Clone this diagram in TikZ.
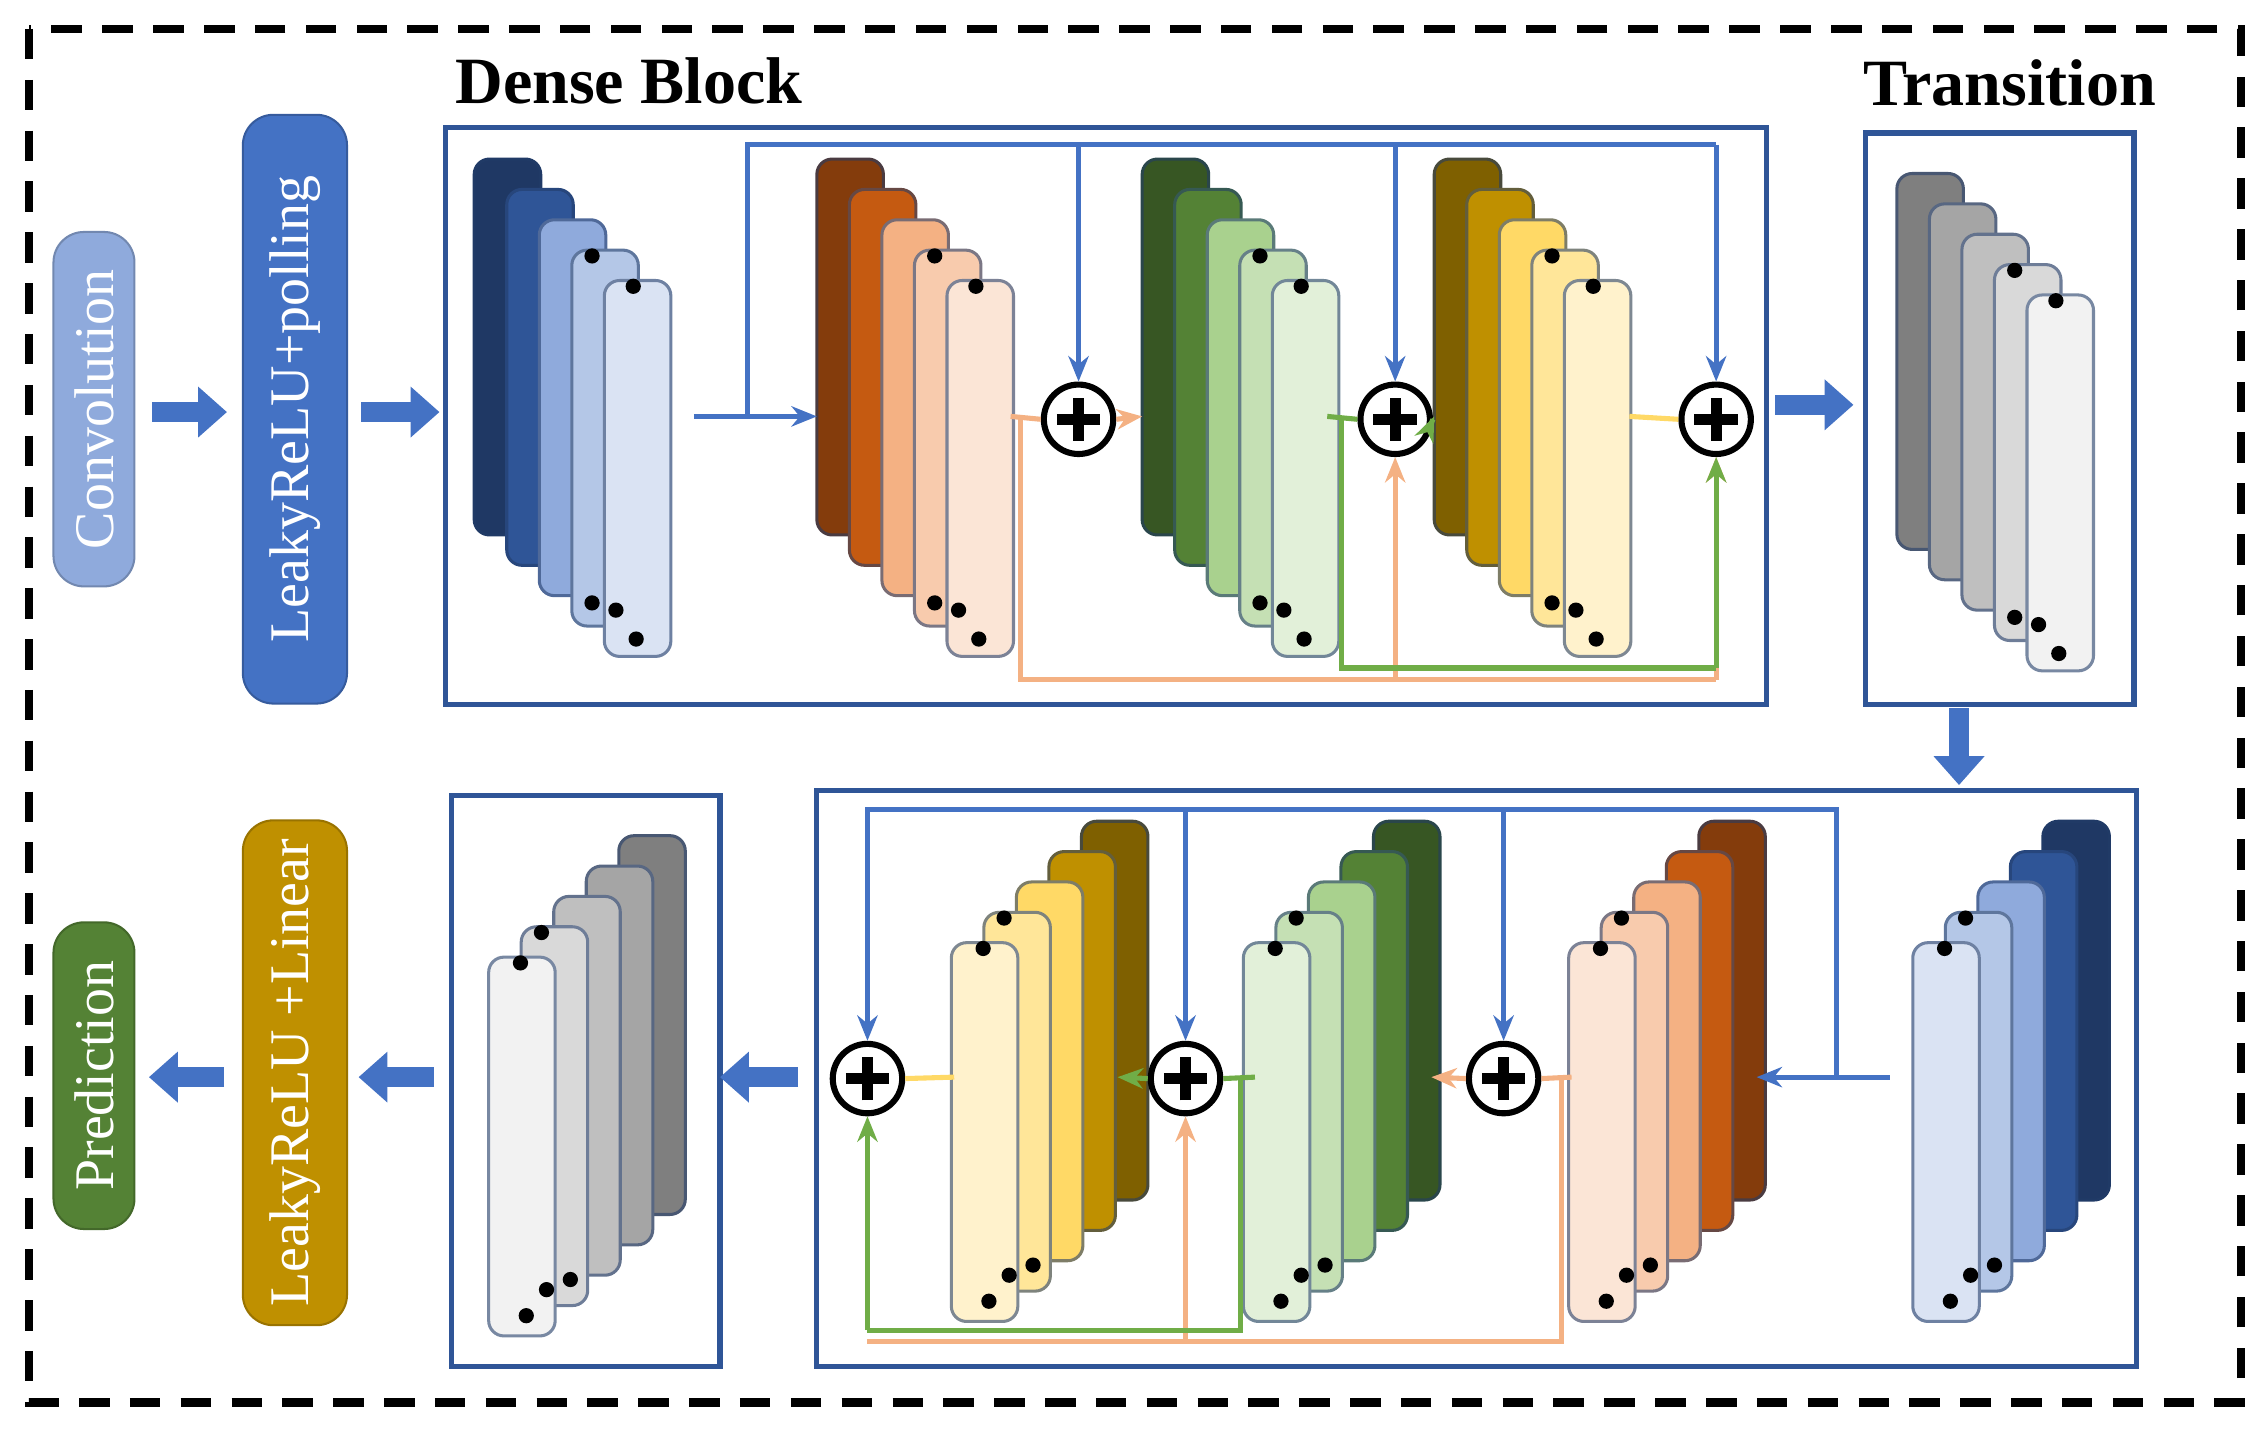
\documentclass[tikz,border=0pt]{standalone}
\usepackage{fontspec}
\setmainfont{Liberation Serif}
\usetikzlibrary{arrows.meta}
\definecolor{c1}{HTML}{1F3864}\definecolor{c2}{HTML}{2F5597}\definecolor{c3}{HTML}{8FAADC}\definecolor{c4}{HTML}{B4C7E7}\definecolor{c5}{HTML}{DAE3F3}
\definecolor{o1}{HTML}{843C0C}\definecolor{o2}{HTML}{C55A11}\definecolor{o3}{HTML}{F4B183}\definecolor{o4}{HTML}{F8CBAD}\definecolor{o5}{HTML}{FBE5D6}
\definecolor{g1}{HTML}{375623}\definecolor{g2}{HTML}{548235}\definecolor{g3}{HTML}{A9D18E}\definecolor{g4}{HTML}{C5E0B4}\definecolor{g5}{HTML}{E2F0D9}
\definecolor{y1}{HTML}{7F6000}\definecolor{y2}{HTML}{BF9000}\definecolor{y3}{HTML}{FFD966}\definecolor{y4}{HTML}{FFE699}\definecolor{y5}{HTML}{FFF2CC}
\definecolor{k1}{HTML}{7F7F7F}\definecolor{k2}{HTML}{A5A5A5}\definecolor{k3}{HTML}{BFBFBF}\definecolor{k4}{HTML}{D9D9D9}\definecolor{k5}{HTML}{F2F2F2}
\definecolor{bl}{HTML}{4472C4}\definecolor{frame}{HTML}{2F5597}
\definecolor{ol}{HTML}{F4B183}\definecolor{gl}{HTML}{70AD47}\definecolor{yl}{HTML}{FFD966}
\tikzset{
 lay/.style={draw=#1!70!black!60!frame, line width=0.6pt, fill=#1, rounded corners=3pt},
 blk/.style={draw=frame, line width=1pt},
 fat/.style={draw=bl, line width=0.14cm, -{Triangle[length=0.2cm,width=0.34cm]}, shorten >=-0.02cm},
 sbox/.style={rounded corners=6pt, draw=#1!80!black, fill=#1, text=white, inner sep=0pt},
 btxt/.style={font=\fontsize{11}{11}\selectfont},
 ttl/.style={font=\bfseries\fontsize{13}{13}\selectfont},
 plus/.style={circle, draw=black, line width=1.2pt, fill=white, minimum size=0.48cm, inner sep=0pt, path picture={\draw[line width=2.2pt] ([xshift=-0.15cm]path picture bounding box.center)--([xshift=0.15cm]path picture bounding box.center) ([yshift=-0.15cm]path picture bounding box.center)--([yshift=0.15cm]path picture bounding box.center);}},
 ln/.style={line width=1pt, draw=#1},
 ar/.style={line width=1pt, draw=#1, -{Stealth[length=5pt,width=4pt]}},
 dot/.style={fill=black, circle, inner sep=0pt, minimum size=3pt}
}
\newcommand{\fstack}[3]{%
 \foreach \i/\c in {0/#31,1/#32,2/#33,3/#34,4/#35}{
  \path[lay=\c] ({#1+\i*22.5},{#2+\i*21}) rectangle ++(46,260);}
 \node[dot] at ({#1+3*22.5+14},{#2+3*21+4}) {};
 \node[dot] at ({#1+4*22.5+20},{#2+4*21+4}) {};
 \node[dot] at ({#1+3*22.5+14},{#2+3*21+244}) {};
 \node[dot] at ({#1+4*22.5+8},{#2+4*21+228}) {};
 \node[dot] at ({#1+4*22.5+22},{#2+4*21+248}) {};
}
\newcommand{\mstack}[3]{%
 \foreach \i/\c in {0/#31,1/#32,2/#33,3/#34,4/#35}{
  \path[lay=\c] ({#1-\i*22.5},{#2+\i*21}) rectangle ++(46,262);}
 \node[dot] at ({#1-3*22.5+14},{#2+3*21+4}) {};
 \node[dot] at ({#1-4*22.5+22},{#2+4*21+4}) {};
 \node[dot] at ({#1-3*22.5+34},{#2+3*21+244}) {};
 \node[dot] at ({#1-4*22.5+40},{#2+4*21+230}) {};
 \node[dot] at ({#1-4*22.5+26},{#2+4*21+248}) {};
}
\begin{document}
\begin{tikzpicture}[x=0.01cm,y=-0.01cm]
\useasboundingbox (0,0) rectangle (1568,996);
\draw[line width=1.6pt, dash pattern=on 6pt off 4pt] (20,20) rectangle (1550,970);
\node[sbox=c3, minimum width=0.56cm, minimum height=2.45cm] (conv) at (65,283) {\rotatebox{90}{\fontsize{11}{11}\selectfont Convolution}};
\node[sbox=bl, minimum width=0.72cm, minimum height=4.07cm] (lr) at (204,283) {\rotatebox{90}{\fontsize{11}{11}\selectfont LeakyReLU+polling}};
\coordinate (a1s) at (105,285); \coordinate (a1e) at (155,285);
\draw[fat] (a1s)--(a1e);
\coordinate (a2s) at (250,285); \coordinate (a2e) at (302,285);
\draw[fat] (a2s)--(a2e);
\draw[blk] (308,88) rectangle (1222,487);
\node[ttl] (db) at (435,56) {Dense Block};
\node[ttl] (tr) at (1390,57) {Transition};
\fstack{328}{110}{c}
\fstack{565}{110}{o}
\fstack{790}{110}{g}
\fstack{992}{110}{y}
\node[plus] (p1) at (746,290) {};
\node[plus] (p2) at (965,290) {};
\node[plus] (p3) at (1187,290) {};
\coordinate (bs) at (480,288); \coordinate (be) at (565,288);
\draw[ar=bl] (bs)--(be);
\draw[ln=bl] (517,288)--(517,100)--(1187,100);
\draw[ar=bl] (746,100)--(p1.north);
\draw[ar=bl] (965,100)--(p2.north);
\draw[ar=bl] (1187,100)--(p3.north);
\draw[ln=ol] (699,288)--(p1.west);
\draw[ar=ol] (p1.east)--(790,288);
\draw[ln=ol] (706,288)--(706,470)--(1187,470);
\draw[ar=ol] (965,470)--(p2.south);
\draw[ar=ol] (1187,470)--(p3.south);
\draw[ln=gl] (918,288)--(p2.west);
\draw[ar=gl] (p2.east)--(992,288);
\draw[ln=gl] (928,288)--(928,462)--(1187,462);
\draw[ar=gl] (1187,462)--(p3.south);
\draw[ln=yl] (1127,288)--(p3.west);
\draw[blk] (1290,92) rectangle (1476,487);
\fstack{1312}{120}{k}
\coordinate (a3s) at (1228,280); \coordinate (a3e) at (1280,280);
\draw[fat] (a3s)--(a3e);
\coordinate (a4s) at (1355,490); \coordinate (a4e) at (1355,541);
\draw[fat] (a4s)--(a4e);
\draw[blk] (565,547) rectangle (1478,945);
\mstack{1413}{568}{c}
\mstack{1175}{568}{o}
\mstack{950}{568}{g}
\mstack{748}{568}{y}
\node[plus] (q1) at (1040,746) {};
\node[plus] (q2) at (820,746) {};
\node[plus] (q3) at (600,746) {};
\coordinate (cs) at (1307,745); \coordinate (ce) at (1215,745);
\draw[ar=bl] (cs)--(ce);
\draw[ln=bl] (1270,745)--(1270,560)--(598,560);
\draw[ar=bl] (1040,560)--(q1.north);
\draw[ar=bl] (820,560)--(q2.north);
\draw[ar=bl] (600,560)--(q3.north);
\draw[ln=ol] (1087,745)--(q1.east);
\draw[ar=ol] (q1.west)--(990,745);
\draw[ln=ol] (1080,745)--(1080,928)--(600,928);
\draw[ar=ol] (820,928)--(q2.south);
\draw[ln=gl] (868,745)--(q2.east);
\draw[ar=gl] (q2.west)--(773,745);
\draw[ln=gl] (858,745)--(858,920)--(600,920);
\draw[ar=gl] (600,920)--(q3.south);
\draw[ln=yl] (660,745)--(q3.east);
\draw[blk] (312,550) rectangle (498,945);
\mstack{428}{578}{k}
\coordinate (a5s) at (552,745); \coordinate (a5e) at (500,745);
\draw[fat] (a5s)--(a5e);
\node[sbox=y2, minimum width=0.72cm, minimum height=3.49cm] (ll) at (204,742) {\rotatebox{90}{\fontsize{11}{11}\selectfont LeakyReLU +Linear}};
\node[sbox=g2, minimum width=0.56cm, minimum height=2.12cm] (pred) at (65,744) {\rotatebox{90}{\fontsize{11}{11}\selectfont Prediction}};
\coordinate (a6s) at (300,745); \coordinate (a6e) at (250,745);
\draw[fat] (a6s)--(a6e);
\coordinate (a7s) at (155,745); \coordinate (a7e) at (105,745);
\draw[fat] (a7s)--(a7e);
\end{tikzpicture}
\end{document}
